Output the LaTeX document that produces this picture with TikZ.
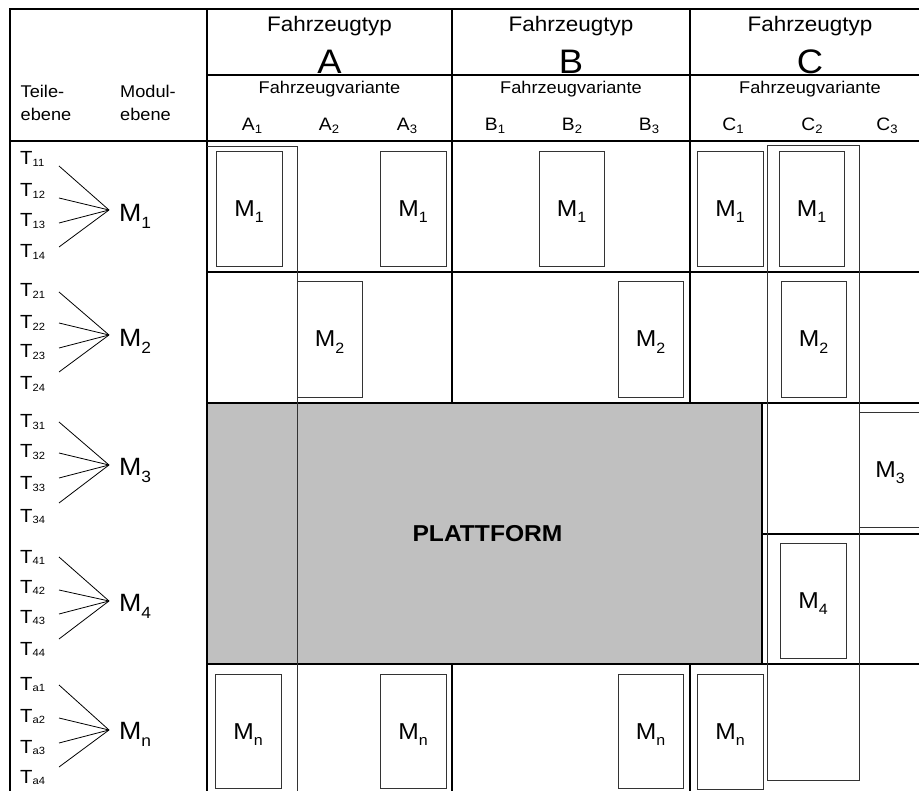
\documentclass[tikz,border=0pt]{standalone}
\usepackage{graphicx}
\usepackage{fontspec}
\setmainfont[FakeStretch=1.07]{Liberation Sans}
\newcommand\fs[1]{\fontsize{#1}{#1}\selectfont}
\newcommand\tsub[1]{\raisebox{-0.1em}{\scalebox{0.55}{#1}}}
\newcommand\vsub[1]{\raisebox{-0.12em}{\scalebox{0.68}{#1}}}
\newcommand\msub[1]{\raisebox{-0.28em}{\scalebox{0.65}{#1}}}
\definecolor{platgray}{HTML}{C0C0C0}
\tikzset{
 gridline/.style={line width=1.2pt,black,line cap=rect},
 frameline/.style={line width=1pt,black!80},
 mbox/.style={draw=black!80,line width=0.9pt},
 fanline/.style={line width=0.8pt,black},
 typ/.style={anchor=base,inner sep=0pt,font=\fs{21}},
 bigl/.style={anchor=base,inner sep=0pt,font=\fs{34}},
 var/.style={anchor=base,inner sep=0pt,font=\fs{17}},
 varl/.style={anchor=base,inner sep=0pt,font=\fs{18}},
 hdr/.style={anchor=base west,inner sep=0pt,font=\fs{17}},
 tlab/.style={anchor=base west,inner sep=0pt,font=\fs{19}},
 leftm/.style={anchor=base west,inner sep=0pt,font=\fs{25}},
 boxm/.style={anchor=base,inner sep=0pt,font=\fs{23}},
 plat/.style={anchor=base,inner sep=0pt,font=\fs{23}\bfseries},
}
\newcommand\modbox[6]{%
 \draw[mbox] (#2,#3) rectangle (#4,#5);
 \node[boxm] (#1) at ({(#2+#4)/2},{(#3+#5)/2+8}) {M\msub{#6}};
}
\newcommand\trow[6]{%
 \node[tlab] (#1t1) at (20,#3) {T\tsub{#21}};
 \node[tlab] (#1t2) at (20,#4) {T\tsub{#22}};
 \node[tlab] (#1t3) at (20,#5) {T\tsub{#23}};
 \node[tlab] (#1t4) at (20,#6) {T\tsub{#24}};
}
\newcommand\fanrow[8]{%
 \coordinate (#1c) at (109,#3);
 \foreach \yy [count=\k] in {#5,#6,#7,#8} {\coordinate (#1s\k) at (59,\yy); \draw[fanline] (#1s\k) -- (#1c);}
 \node[leftm] (#1) at (119,#4) {M\msub{#2}};
}
\begin{document}
\begin{tikzpicture}[x=1pt,y=-1pt]
\useasboundingbox (0,0) rectangle (919,791);
\clip (0,0) rectangle (919,791);
% platform
\fill[platgray] (207,403) rectangle (762,664);
\draw[gridline] (762,403) -- (762,664);
% grid
\draw[gridline] (10,795) -- (10,9) -- (925,9);
\draw[gridline] (10,141) -- (925,141);
\draw[gridline] (207,75) -- (925,75);
\foreach \xx in {207,452,690} \draw[gridline] (\xx,9) -- (\xx,141);
\draw[gridline] (207,141) -- (207,795);
\draw[gridline] (452,141) -- (452,403) (452,664) -- (452,795);
\draw[gridline] (690,141) -- (690,403) (690,664) -- (690,795);
\draw[gridline] (207,272) -- (925,272);
\draw[gridline] (207,403) -- (925,403);
\draw[gridline] (762,534) -- (925,534);
\draw[gridline] (207,664) -- (925,664);
% frames
\draw[frameline] (207,147) -- (297,147) -- (297,795);
\draw[frameline] (767,146) rectangle (859,780);
% header
\foreach \nm/\cx in {A/329.5,B/571,C/810}{
 \node[typ] (ft\nm) at (\cx,32) {Fahrzeugtyp};
 \node[bigl] (t\nm) at (\cx,74) {\nm};
 \node[var] (fv\nm) at (\cx,94) {Fahrzeugvariante};
}
\foreach \nm/\i/\cx in {A/1/252,A/2/329,A/3/407,B/1/495,B/2/572,B/3/649,C/1/733,C/2/812,C/3/887}
 \node[varl] (v\nm\i) at (\cx,131) {\nm\vsub{\i}};
\node[hdr] (teile) at (20.5,98) {Teile-};
\node[hdr] (teileb) at (20.5,121) {ebene};
\node[hdr] (modul) at (120,98) {Modul-};
\node[hdr] (modulb) at (120,121) {ebene};
% left column
\trow{r1}{1}{165}{197}{227}{258}
\trow{r2}{2}{297}{329}{358}{390}
\trow{r3}{3}{428}{458}{490}{522}
\trow{r4}{4}{563}{593}{623}{655}
\trow{rn}{a}{690}{722}{753}{783}
\fanrow{m1}{1}{210}{222}{166}{198}{223}{247}
\fanrow{m2}{2}{335}{347}{292}{323}{348}{372}
\fanrow{m3}{3}{465}{476}{422}{453}{478}{503}
\fanrow{m4}{4}{601}{611}{557}{590}{614}{639}
\fanrow{mn}{n}{730}{739}{685}{718}{743}{767}
% module boxes
\modbox{a1m1}{216}{151}{282}{266}{1}
\modbox{a3m1}{380}{151}{446}{266}{1}
\modbox{b2m1}{539}{151}{604}{266}{1}
\modbox{c1m1}{697}{151}{763}{266}{1}
\modbox{c2m1}{779}{151}{844}{266}{1}
\modbox{a2m2}{297}{281}{362}{397}{2}
\modbox{b3m2}{618}{281}{683}{397}{2}
\modbox{c2m2}{781}{281}{846}{397}{2}
\modbox{c3m3}{859}{412}{921}{527}{3}
\modbox{c2m4}{780}{543}{846}{658}{4}
\modbox{a1mn}{215}{674}{281}{788}{n}
\modbox{a3mn}{380}{674}{446}{788}{n}
\modbox{b3mn}{618}{674}{683}{788}{n}
\modbox{c1mn}{697}{674}{763}{789}{n}
\node[plat] (plattform) at (487.5,542) {PLATTFORM};
\end{tikzpicture}
\end{document}
